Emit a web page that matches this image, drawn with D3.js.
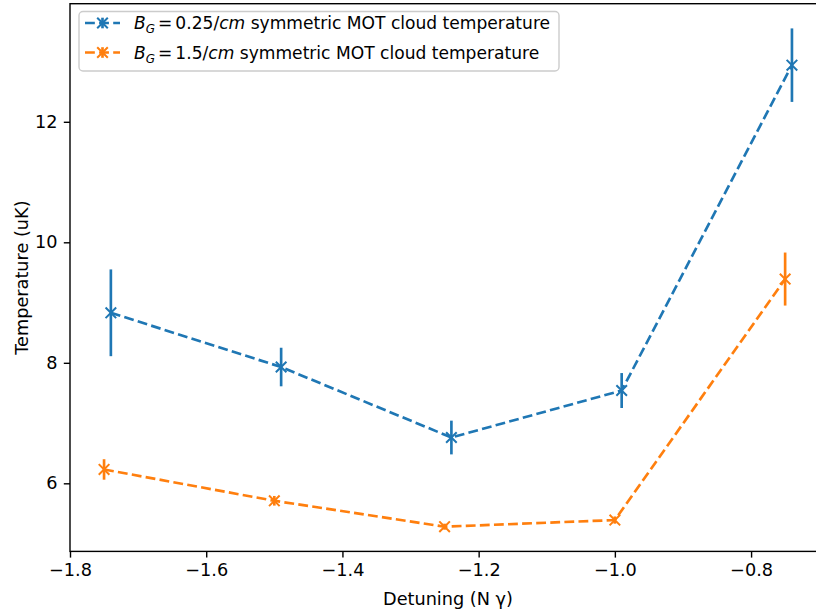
<!DOCTYPE html>
<html>
<head>
<meta charset="utf-8">
<script src="https://cdn.jsdelivr.net/npm/d3@7"></script>
<style>
  body { margin: 0; background: #fff; }
  text { font-family: "DejaVu Sans", sans-serif; fill: #000; }
</style>
</head>
<body>
<svg id="chart" width="816" height="614"></svg>
<script>
// Cloud temperature vs. detuning for two gradient settings
const detuningLow = [-1.74, -1.49, -1.24, -0.99, -0.74];
const tempLow     = [8.83, 7.93, 6.76, 7.54, 12.94];
const errLow      = [0.72, 0.32, 0.28, 0.29, 0.61];

const detuningHigh = [-1.75, -1.50, -1.25, -1.00, -0.75];
const tempHigh     = [6.23, 5.71, 5.28, 5.39, 9.39];
const errHigh      = [0.17, 0.08, 0.05, 0.06, 0.44];

const xTicks = [-1.8, -1.6, -1.4, -1.2, -1.0, -0.8];
const yTicks = [6, 8, 10, 12];
const xLimits = [-1.80, -0.69];
const yLimits = [4.87, 13.96];

const xLabel = "Detuning (N \u03B3)";
const yLabel = "Temperature (uK)";

const BLUE = "#1f77b4", ORANGE = "#ff7f0e";
const LW = 2.66;           // 1.5pt line width
const MS = 10.6;           // marker size
const FS = 17.7;           // axis font size
const LFS = 17.1;          // legend font size

const plot = { left: 70, right: 826, top: 3.7, bottom: 551.4 };

const svg = d3.select("#chart");
const x = d3.scaleLinear().domain(xLimits).range([plot.left, plot.right]);
const y = d3.scaleLinear().domain(yLimits).range([plot.bottom, plot.top]);

// axes
const xAxis = svg.append("g")
  .attr("transform", `translate(0,${plot.bottom})`)
  .call(d3.axisBottom(x).tickValues(xTicks).tickSize(6.2).tickPadding(6.2)
    .tickFormat(d => d.toFixed(1).replace("-", "\u2212")));
const yAxis = svg.append("g")
  .attr("transform", `translate(${plot.left},0)`)
  .call(d3.axisLeft(y).tickValues(yTicks).tickSize(6.2).tickPadding(6.2)
    .tickFormat(d => String(d)));
[xAxis, yAxis].forEach(g => {
  g.select(".domain").remove();
  g.selectAll(".tick line").attr("stroke", "#000").attr("stroke-width", 1.4);
  g.selectAll(".tick text").attr("font-size", FS).attr("font-family", "DejaVu Sans").attr("fill", "#000");
});

// frame
svg.append("rect")
  .attr("x", plot.left).attr("y", plot.top)
  .attr("width", plot.right - plot.left).attr("height", plot.bottom - plot.top)
  .attr("fill", "none").attr("stroke", "#000").attr("stroke-width", 1.4);

// axis labels
svg.append("text")
  .attr("x", (plot.left + plot.right) / 2).attr("y", 605)
  .attr("text-anchor", "middle").attr("font-size", FS).text(xLabel);
svg.append("text")
  .attr("transform", `translate(28,${(plot.top + plot.bottom) / 2}) rotate(-90)`)
  .attr("text-anchor", "middle").attr("font-size", FS).text(yLabel);

function drawSeries(xs, ys, es, color) {
  const pts = xs.map((d, i) => ({ x: d, y: ys[i], e: es[i] }));
  const g = svg.append("g");
  g.append("path")
    .attr("d", d3.line().x(d => x(d.x)).y(d => y(d.y))(pts))
    .attr("fill", "none").attr("stroke", color).attr("stroke-width", LW)
    .attr("stroke-dasharray", `${3.7 * LW},${1.6 * LW}`);
  g.selectAll(".err").data(pts).join("line")
    .attr("x1", d => x(d.x)).attr("x2", d => x(d.x))
    .attr("y1", d => y(d.y - d.e)).attr("y2", d => y(d.y + d.e))
    .attr("stroke", color).attr("stroke-width", LW);
  const h = MS / 2;
  g.selectAll(".mk").data(pts).join("path")
    .attr("d", d => {
      const cx = x(d.x), cy = y(d.y);
      return `M${cx - h},${cy - h}L${cx + h},${cy + h}M${cx - h},${cy + h}L${cx + h},${cy - h}`;
    })
    .attr("stroke", color).attr("stroke-width", 2).attr("fill", "none");
}

drawSeries(detuningLow, tempLow, errLow, BLUE);
drawSeries(detuningHigh, tempHigh, errHigh, ORANGE);

// legend
const legend = svg.append("g");
legend.append("rect")
  .attr("x", 79).attr("y", 11.5).attr("width", 480).attr("height", 59.5).attr("rx", 4)
  .attr("fill", "#fff").attr("fill-opacity", 0.8).attr("stroke", "#cccccc").attr("stroke-width", 1.4);

const legendRows = [
  { color: BLUE, value: "0.25/" },
  { color: ORANGE, value: "1.5/" }
];
legendRows.forEach((r, i) => {
  const cy = 23 + i * 29.5;
  const lg = legend.append("g");
  lg.append("line").attr("x1", 85).attr("x2", 120).attr("y1", cy).attr("y2", cy)
    .attr("stroke", r.color).attr("stroke-width", LW)
    .attr("stroke-dasharray", `${3.7 * LW},${1.6 * LW}`);
  lg.append("line").attr("x1", 102.5).attr("x2", 102.5).attr("y1", cy - MS / 2).attr("y2", cy + MS / 2)
    .attr("stroke", r.color).attr("stroke-width", LW);
  const h = MS / 2;
  lg.append("path")
    .attr("d", `M${102.5 - h},${cy - h}L${102.5 + h},${cy + h}M${102.5 - h},${cy + h}L${102.5 + h},${cy - h}`)
    .attr("stroke", r.color).attr("stroke-width", 2);
  const t = lg.append("text").attr("x", 134).attr("y", cy + 6.2).attr("font-size", LFS);
  t.append("tspan").attr("font-style", "italic").text("B");
  t.append("tspan").attr("font-style", "italic").attr("font-size", LFS * 0.7).attr("dy", 4).text("G");
  t.append("tspan").attr("dy", -4).attr("dx", 3).text("=");
  t.append("tspan").attr("dx", 3).text(r.value);
  t.append("tspan").attr("font-style", "italic").text("cm");
  t.append("tspan").text(" symmetric MOT cloud temperature");
});
</script>
</body>
</html>
